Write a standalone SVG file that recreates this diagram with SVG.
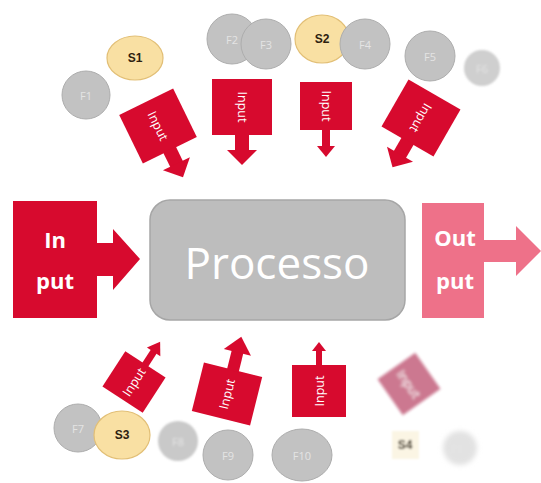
<svg xmlns="http://www.w3.org/2000/svg" width="541" height="483" viewBox="0 0 541 483">
  <style>
    .red { fill: #d70a2e; }
    .pink { fill: #ee7189; }
    .arrtxt { font-family: "Open Sans", "Liberation Sans", sans-serif; font-size: 12.5px; fill: #ffffff; text-anchor: middle; dominant-baseline: central; }
    .big { font-family: "Open Sans", "Liberation Sans", sans-serif; font-size: 22px; font-weight: bold; fill: #ffffff; text-anchor: middle; }
    .proc { fill: #bdbdbd; stroke: #a6a6a6; stroke-width: 1.5; }
    .proctxt { font-family: "Open Sans", "Liberation Sans", sans-serif; font-size: 44px; fill: #ffffff; text-anchor: middle; dominant-baseline: central; }
    .f { fill: #c2c2c2; stroke: #adadad; stroke-width: 1; }
    .ftxt { font-family: "Open Sans", "Liberation Sans", sans-serif; font-size: 11px; fill: #e4e4e4; text-anchor: middle; dominant-baseline: central; }
    .s { fill: #f9e0a3; stroke: #e2bf76; stroke-width: 1.2; }
    .stxt { font-family: "Liberation Sans", sans-serif; font-size: 12px; font-weight: bold; fill: #2e2210; text-anchor: middle; dominant-baseline: central; }
  </style>
  <defs>
    <filter id="soft" x="-30%" y="-30%" width="160%" height="160%">
      <feGaussianBlur stdDeviation="2.8"/>
    </filter>
    <filter id="mid" x="-30%" y="-30%" width="160%" height="160%">
      <feGaussianBlur stdDeviation="1.8"/>
    </filter>
    <filter id="softer" x="-30%" y="-30%" width="160%" height="160%">
      <feGaussianBlur stdDeviation="1.1"/>
    </filter>
  </defs>
  <rect width="541" height="483" fill="#ffffff"/>

  <!-- central process -->
  <g id="processo">
    <rect class="proc" x="150" y="200" width="255" height="120" rx="20"/>
    <text class="proctxt" x="277" y="262">Processo</text>
  </g>

  <!-- main input / output -->
  <g id="input-main">
    <rect class="red" x="13" y="201" width="84" height="117"/>
    <path class="red" d="M96,243 H113 V229 L140,259 L113,290 V276 H96 Z"/>
    <text class="big" x="55" y="248">In</text>
    <text class="big" x="55" y="289">put</text>
  </g>
  <g id="output-main">
    <rect class="pink" x="422" y="203" width="62" height="115"/>
    <path class="pink" d="M483,240 H516 V226 L541,251 L516,276 V262 H483 Z"/>
    <text class="big" x="455" y="246">Out</text>
    <text class="big" x="455" y="289">put</text>
  </g>

  <!-- input arrows around the process -->
  <g id="arrows">
    <g id="in1" transform="translate(158,126) rotate(-26)">
      <rect class="red" x="-30" y="-27" width="60" height="54"/>
      <rect class="red" x="-7" y="26" width="14" height="18"/>
      <polygon class="red" points="-15,42 15,42 0,57"/>
      <text class="arrtxt" transform="rotate(90)" x="0" y="0">Input</text>
    </g>
    <g id="in2" transform="translate(242,107)">
      <rect class="red" x="-30" y="-28" width="60" height="56"/>
      <rect class="red" x="-7" y="27" width="14" height="18"/>
      <polygon class="red" points="-15,43 15,43 0,58"/>
      <text class="arrtxt" transform="rotate(90)" x="0" y="0">Input</text>
    </g>
    <g id="in3" transform="translate(326,106)">
      <rect class="red" x="-26" y="-24" width="52" height="48"/>
      <rect class="red" x="-4" y="23" width="8" height="19"/>
      <polygon class="red" points="-9,40 9,40 0,51"/>
      <text class="arrtxt" transform="rotate(90)" x="0" y="0">Input</text>
    </g>
    <g id="in4" transform="translate(421,118) rotate(30)">
      <rect class="red" x="-30" y="-27" width="60" height="54"/>
      <rect class="red" x="-7" y="26" width="14" height="18"/>
      <polygon class="red" points="-15,42 15,42 0,57"/>
      <text class="arrtxt" transform="rotate(90)" x="0" y="0">Input</text>
    </g>
    <g id="in5" transform="translate(134,382) rotate(-147)">
      <rect class="red" x="-24" y="-21" width="48" height="42"/>
      <rect class="red" x="-3.5" y="20" width="7" height="18"/>
      <polygon class="red" points="-8,36 8,36 0,48"/>
      <text class="arrtxt" transform="rotate(90)" x="0" y="0">Input</text>
    </g>
    <g id="in6" transform="translate(227,394) rotate(-166)">
      <rect class="red" x="-30" y="-25" width="60" height="50"/>
      <rect class="red" x="-6" y="24" width="12" height="21"/>
      <polygon class="red" points="-14,43 14,43 0,59"/>
      <text class="arrtxt" transform="rotate(90)" x="0" y="0">Input</text>
    </g>
    <g id="in7" transform="translate(319,391) rotate(180)">
      <rect class="red" x="-27" y="-26" width="54" height="52"/>
      <rect class="red" x="-3" y="25" width="6" height="17"/>
      <polygon class="red" points="-7,40 7,40 0,49"/>
      <text class="arrtxt" transform="rotate(90)" x="0" y="0">Input</text>
    </g>
    <g id="in8" transform="translate(409,384) rotate(-35)" filter="url(#mid)">
      <rect x="-23" y="-22" width="46" height="44" fill="#cc7890"/>
      <text class="arrtxt" transform="rotate(90)" x="0" y="0" fill="#f6e4e9">Input</text>
    </g>
  </g>

  <!-- suppliers and resources -->
  <g id="F1"><circle class="f" cx="86" cy="95" r="24"/><text class="ftxt" x="86" y="95">F1</text></g>
  <g id="S1"><ellipse class="s" cx="135" cy="58" rx="28" ry="22"/><text class="stxt" x="135" y="58">S1</text></g>
  <g id="F2"><circle class="f" cx="232" cy="39" r="25"/><text class="ftxt" x="232" y="39">F2</text></g>
  <g id="F3"><circle class="f" cx="266" cy="44" r="25"/><text class="ftxt" x="266" y="44">F3</text></g>
  <g id="S2"><ellipse class="s" cx="322" cy="39" rx="27" ry="24"/><text class="stxt" x="322" y="39">S2</text></g>
  <g id="F4"><circle class="f" cx="365" cy="44" r="25"/><text class="ftxt" x="365" y="44">F4</text></g>
  <g id="F5"><circle class="f" cx="430" cy="56" r="25"/><text class="ftxt" x="430" y="56">F5</text></g>
  <g id="F6" filter="url(#softer)"><circle cx="482" cy="68" r="18" fill="#cfcfcf"/><text class="ftxt" x="482" y="68">F6</text></g>

  <g id="F7"><circle class="f" cx="78" cy="428" r="24"/><text class="ftxt" x="78" y="428">F7</text></g>
  <g id="S3"><ellipse class="s" cx="122" cy="435" rx="28" ry="24"/><text class="stxt" x="122" y="435">S3</text></g>
  <g id="F8" filter="url(#softer)"><circle cx="178" cy="441" r="20" fill="#c9c9c9"/><text class="ftxt" x="178" y="441">F8</text></g>
  <g id="F9"><circle class="f" cx="228" cy="455" r="25"/><text class="ftxt" x="228" y="455">F9</text></g>
  <g id="F10"><ellipse class="f" cx="302" cy="455" rx="30" ry="26"/><text class="ftxt" x="302" y="455">F10</text></g>
  <g id="S4" filter="url(#softer)"><rect x="392" y="431" width="27" height="28" fill="#fbf5e4"/><text class="stxt" x="405" y="445">S4</text></g>
  <g id="F11" filter="url(#soft)"><circle cx="460" cy="448" r="17" fill="#e2e2e2"/><text class="ftxt" x="460" y="448" fill="#f4f4f4">F11</text></g>
</svg>
